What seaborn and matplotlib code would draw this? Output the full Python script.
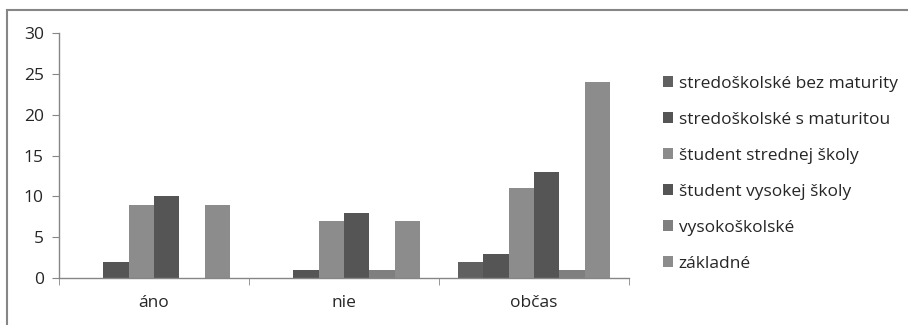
import matplotlib
matplotlib.use("Agg")
import matplotlib.pyplot as plt
import matplotlib.patches as patches
import pandas as pd
import seaborn as sns

# data
categories = ["áno", "nie", "občas"]
series = [
    "stredoškolské bez maturity",
    "stredoškolské s maturitou",
    "študent strednej školy",
    "študent vysokej školy",
    "vysokoškolské",
    "základné",
]
bez_maturity = [0, 0, 2]
s_maturitou = [2, 1, 3]
student_stredna = [9, 7, 11]
student_vysoka = [10, 8, 13]
vysokoskolske = [0, 1, 1]
zakladne = [9, 7, 24]

colors = ["#606060", "#555555", "#8c8c8c", "#555555", "#7f7f7f", "#8c8c8c"]

values = [bez_maturity, s_maturitou, student_stredna, student_vysoka, vysokoskolske, zakladne]
rows = []
for name, vals in zip(series, values):
    for cat, v in zip(categories, vals):
        rows.append({"kategoria": cat, "skupina": name, "pocet": v})
df = pd.DataFrame(rows)

sns.set_style("white")
plt.rcParams["font.family"] = ["Open Sans", "DejaVu Sans"]

fig = plt.figure(figsize=(9.08, 3.25), dpi=100)
W, H = 908, 325
ax = fig.add_axes([59 / W, (H - 278) / H, (629 - 59) / W, (278 - 33) / H])

sns.barplot(data=df, x="kategoria", y="pocet", hue="skupina", order=categories,
            hue_order=series, palette=colors, width=0.8, linewidth=0, ax=ax)

axis_col = "#868686"
ax.set_xlim(-0.5, 2.5)
ax.set_ylim(0, 30)
ax.set_yticks(range(0, 31, 5))
ax.set_xlabel("")
ax.set_ylabel("")
for side in ["top", "right"]:
    ax.spines[side].set_visible(False)
for side in ["left", "bottom"]:
    ax.spines[side].set_color(axis_col)
    ax.spines[side].set_linewidth(1)
ax.tick_params(axis="y", left=True, length=5, color=axis_col, labelsize=12.5, pad=6)
ax.tick_params(axis="x", which="major", bottom=False, labelsize=12.5, pad=9)
ax.set_xticks([-0.5, 0.5, 1.5, 2.5], minor=True)
ax.tick_params(axis="x", which="minor", bottom=True, length=5, color=axis_col)

handles, labels = ax.get_legend_handles_labels()
ax.get_legend().remove()
fig.legend(handles, labels, loc="upper left", bbox_to_anchor=(656 / W, 1 - 69 / H),
           frameon=False, fontsize=12.5, handlelength=0.6, handleheight=0.6,
           handletextpad=0.3, labelspacing=1.15, borderaxespad=0)

# outer frame of the chart
fig.patches.append(patches.Rectangle((7 / W, -0.1), 1.1, 1 - 10 / H + 0.1,
                                     transform=fig.transFigure, fill=False,
                                     edgecolor=axis_col, linewidth=1.5))

fig.savefig("out.png", dpi=100)
